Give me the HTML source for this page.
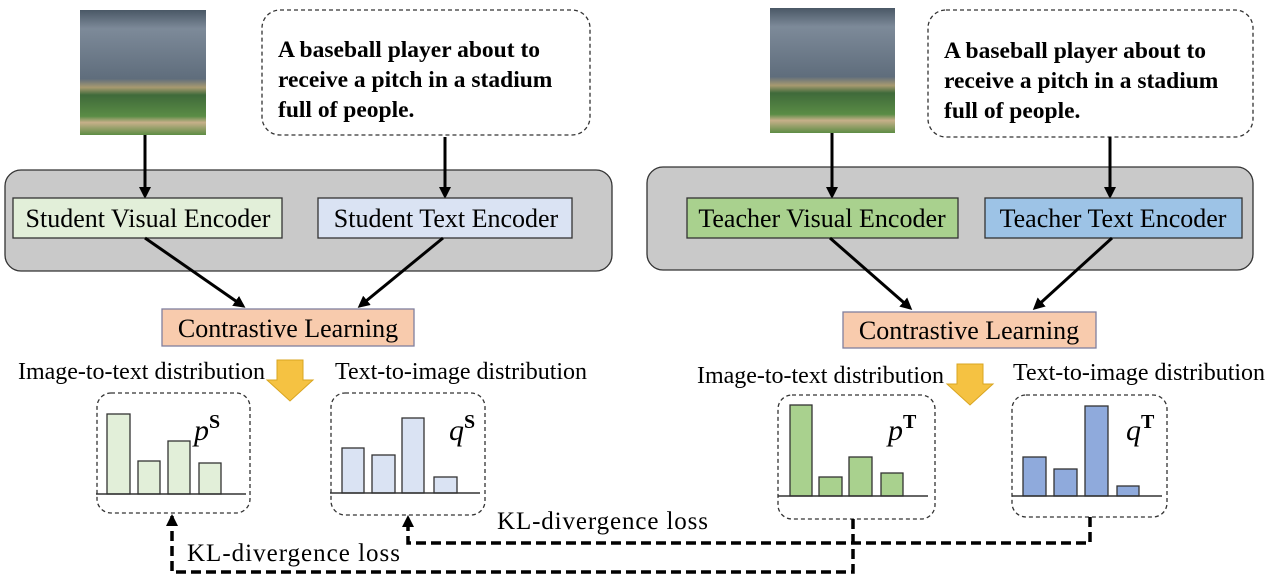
<!DOCTYPE html>
<html><head><meta charset="utf-8"><style>
html,body{margin:0;padding:0;background:#fff;}
svg{display:block;font-family:"Liberation Serif",serif;}
</style></head><body>
<svg width="1269" height="579" viewBox="0 0 1269 579" xmlns="http://www.w3.org/2000/svg">
<defs>
<marker id="ah" markerWidth="12" markerHeight="12" refX="9" refY="6" orient="auto" markerUnits="userSpaceOnUse"><path d="M0,0 L12,6 L0,12 z" fill="#000"/></marker>
<marker id="ah2" markerWidth="12" markerHeight="12" refX="10" refY="6" orient="auto" markerUnits="userSpaceOnUse"><path d="M0,0 L12,6 L0,12 z" fill="#000"/></marker>
<linearGradient id="photo" x1="0" y1="0" x2="0" y2="1">
<stop offset="0" stop-color="#4a5866"/><stop offset="0.15" stop-color="#7d8a99"/><stop offset="0.55" stop-color="#5f6d7c"/><stop offset="0.62" stop-color="#a89a70"/><stop offset="0.68" stop-color="#3f6a3a"/><stop offset="0.85" stop-color="#5a8c45"/><stop offset="0.9" stop-color="#c7b08a"/><stop offset="1" stop-color="#5d8c44"/>
</linearGradient>
</defs>

<!-- LEFT -->
<rect x="80" y="10" width="126" height="125" fill="url(#photo)"/>
<rect x="262" y="10" width="328" height="125" rx="18" fill="#fff" stroke="#333" stroke-width="1.3" stroke-dasharray="4,3"/>
<g font-weight="bold" font-size="23.5" fill="#000">
<text x="278" y="57">A baseball player about to</text>
<text x="278" y="87">receive a pitch in a stadium</text>
<text x="278" y="117">full of people.</text>
</g>
<rect x="5" y="170" width="607" height="101" rx="16" fill="#c9c9c9" stroke="#333" stroke-width="1.3"/>
<line x1="145" y1="135" x2="145" y2="196" stroke="#000" stroke-width="3" marker-end="url(#ah)"/>
<line x1="445" y1="137" x2="445" y2="196" stroke="#000" stroke-width="3" marker-end="url(#ah)"/>
<rect x="13" y="198" width="269" height="40" fill="#e2efd9" stroke="#333" stroke-width="1.3"/>
<text x="148" y="227" font-size="26" text-anchor="middle">Student Visual Encoder</text>
<rect x="318" y="198" width="254" height="40" fill="#dae3f3" stroke="#333" stroke-width="1.3"/>
<text x="446" y="227" font-size="26" text-anchor="middle">Student Text Encoder</text>
<line x1="145" y1="238" x2="243" y2="306" stroke="#000" stroke-width="3" marker-end="url(#ah)"/>
<line x1="443" y1="238" x2="360" y2="306" stroke="#000" stroke-width="3" marker-end="url(#ah)"/>
<rect x="162" y="309" width="252" height="37" fill="#f8cbad" stroke="#7f7f9f" stroke-width="1.3"/>
<text x="288" y="337" font-size="26" text-anchor="middle">Contrastive Learning</text>
<path d="M277,360 H303 V380 H313 L290,401 L267,380 H277 Z" fill="#f5c242" stroke="#d9a520" stroke-width="1"/>
<text x="18" y="379" font-size="24" textLength="247">Image-to-text distribution</text>
<text x="335" y="379" font-size="24" textLength="252">Text-to-image distribution</text>

<rect x="97" y="393" width="153" height="120" rx="14" fill="none" stroke="#333" stroke-width="1.3" stroke-dasharray="4,3"/>
<g fill="#e2efd9" stroke="#333" stroke-width="1.3">
<rect x="107" y="414" width="23" height="80"/><rect x="138" y="461" width="22" height="33"/><rect x="168" y="441" width="22" height="53"/><rect x="199" y="463" width="22" height="31"/>
</g>
<line x1="96" y1="494" x2="246" y2="494" stroke="#333" stroke-width="1.5"/>
<text x="194" y="440" font-size="30" font-style="italic">p<tspan font-size="20" font-weight="bold" font-style="normal" dy="-12">S</tspan></text>

<rect x="331" y="393" width="154" height="122" rx="14" fill="none" stroke="#333" stroke-width="1.3" stroke-dasharray="4,3"/>
<g fill="#dae3f3" stroke="#333" stroke-width="1.3">
<rect x="342" y="448" width="22" height="45"/><rect x="372" y="455" width="23" height="38"/><rect x="402" y="418" width="22" height="75"/><rect x="434" y="477" width="23" height="16"/>
</g>
<line x1="330" y1="493" x2="480" y2="493" stroke="#333" stroke-width="1.5"/>
<text x="449" y="440" font-size="30" font-style="italic">q<tspan font-size="20" font-weight="bold" font-style="normal" dy="-12">S</tspan></text>

<!-- RIGHT -->
<rect x="770" y="8" width="125" height="125" fill="url(#photo)"/>
<rect x="928" y="10" width="325" height="127" rx="18" fill="#fff" stroke="#333" stroke-width="1.3" stroke-dasharray="4,3"/>
<g font-weight="bold" font-size="23.5" fill="#000">
<text x="944" y="58">A baseball player about to</text>
<text x="944" y="88">receive a pitch in a stadium</text>
<text x="944" y="118">full of people.</text>
</g>
<rect x="647" y="167" width="606" height="103" rx="16" fill="#c9c9c9" stroke="#333" stroke-width="1.3"/>
<line x1="832" y1="133" x2="832" y2="196" stroke="#000" stroke-width="3" marker-end="url(#ah)"/>
<line x1="1110" y1="137" x2="1110" y2="196" stroke="#000" stroke-width="3" marker-end="url(#ah)"/>
<rect x="687" y="198" width="271" height="40" fill="#a9d18e" stroke="#333" stroke-width="1.3"/>
<text x="822" y="227" font-size="26" text-anchor="middle">Teacher Visual Encoder</text>
<rect x="985" y="198" width="257" height="40" fill="#9dc3e6" stroke="#333" stroke-width="1.3"/>
<text x="1113" y="227" font-size="26" text-anchor="middle">Teacher Text Encoder</text>
<line x1="830" y1="238" x2="910" y2="308" stroke="#000" stroke-width="3" marker-end="url(#ah)"/>
<line x1="1112" y1="238" x2="1035" y2="308" stroke="#000" stroke-width="3" marker-end="url(#ah)"/>
<rect x="843" y="312" width="253" height="36" fill="#f8cbad" stroke="#7f7f9f" stroke-width="1.3"/>
<text x="969" y="339" font-size="26" text-anchor="middle">Contrastive Learning</text>
<path d="M957,364 H983 V384 H993 L970,405 L947,384 H957 Z" fill="#f5c242" stroke="#d9a520" stroke-width="1"/>
<text x="697" y="383" font-size="24" textLength="247">Image-to-text distribution</text>
<text x="1013" y="380" font-size="24" textLength="252">Text-to-image distribution</text>

<rect x="778" y="395" width="157" height="124" rx="14" fill="none" stroke="#333" stroke-width="1.3" stroke-dasharray="4,3"/>
<g fill="#a9d18e" stroke="#333" stroke-width="1.3">
<rect x="790" y="405" width="22" height="91"/><rect x="819" y="477" width="23" height="19"/><rect x="849" y="457" width="23" height="39"/><rect x="881" y="473" width="22" height="23"/>
</g>
<line x1="778" y1="496" x2="928" y2="496" stroke="#333" stroke-width="1.5"/>
<text x="888" y="440" font-size="30" font-style="italic">p<tspan font-size="20" font-weight="bold" font-style="normal" dy="-12">T</tspan></text>

<rect x="1012" y="395" width="155" height="122" rx="14" fill="none" stroke="#333" stroke-width="1.3" stroke-dasharray="4,3"/>
<g fill="#8faadc" stroke="#333" stroke-width="1.3">
<rect x="1023" y="457" width="23" height="39"/><rect x="1054" y="469" width="23" height="27"/><rect x="1085" y="406" width="23" height="90"/><rect x="1117" y="486" width="22" height="10"/>
</g>
<line x1="1012" y1="496" x2="1162" y2="496" stroke="#333" stroke-width="1.5"/>
<text x="1126" y="440" font-size="30" font-style="italic">q<tspan font-size="20" font-weight="bold" font-style="normal" dy="-12">T</tspan></text>

<!-- KL dashed connectors -->
<path d="M853,519 V572 H172 V516" fill="none" stroke="#000" stroke-width="3.5" stroke-dasharray="10,5" marker-end="url(#ah2)"/>
<path d="M1090,517 V543 H408 V517" fill="none" stroke="#000" stroke-width="3.5" stroke-dasharray="10,5" marker-end="url(#ah2)"/>
<text x="187" y="561" font-size="25" textLength="213">KL-divergence loss</text>
<text x="497" y="529" font-size="25" textLength="211">KL-divergence loss</text>
</svg>
</body></html>
